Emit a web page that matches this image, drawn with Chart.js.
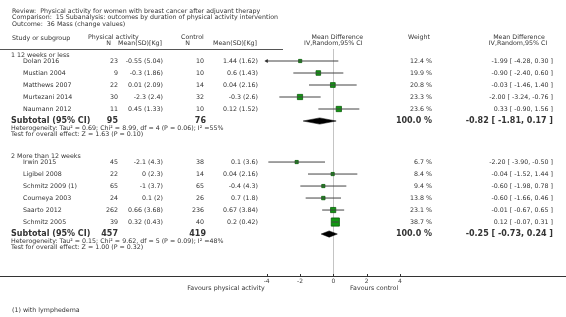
<!DOCTYPE html>
<html>
<head>
<meta charset="utf-8">
<script src="https://cdn.jsdelivr.net/npm/chart.js@4.4.0/dist/chart.umd.min.js"></script>
<style>
body { margin: 0; background: #fff; }
#wrap { width: 566px; height: 317px; position: relative; }
</style>
</head>
<body>
<div id="wrap"><canvas id="forest"></canvas></div>
<script>
// group 1: 12 weeks or less
var studies1 = ['Dolan 2016', 'Mustian 2004', 'Matthews 2007', 'Murtezani 2014', 'Naumann 2012'];
var paN1 = [23, 9, 22, 30, 11];
var paMean1 = [-0.55, -0.3, 0.01, -2.3, 0.45];
var paSD1 = [5.04, 1.86, 2.09, 2.4, 1.33];
var ctN1 = [10, 10, 14, 32, 10];
var ctMean1 = [1.44, 0.6, 0.04, -0.3, 0.12];
var ctSD1 = [1.62, 1.43, 2.16, 2.6, 1.52];
var weight1 = [12.4, 19.9, 20.8, 23.3, 23.6];
var md1 = [-1.99, -0.90, -0.03, -2.00, 0.33];
var lo1 = [-4.28, -2.40, -1.46, -3.24, -0.90];
var hi1 = [0.30, 0.60, 1.40, -0.76, 1.56];
var sub1 = { paN: 95, ctN: 76, md: -0.82, lo: -1.81, hi: 0.17 };
var het1 = ['Heterogeneity: Tau\u00b2 = 0.69; Chi\u00b2 = 8.99, df = 4 (P = 0.06); I\u00b2 =55%',
            'Test for overall effect: Z = 1.63 (P = 0.10)'];

// group 2: more than 12 weeks
var studies2 = ['Irwin 2015', 'Ligibel 2008', 'Schmitz 2009 (1)', 'Courneya 2003', 'Saarto 2012', 'Schmitz 2005'];
var paN2 = [45, 22, 65, 24, 262, 39];
var paMean2 = [-2.1, 0, -1, 0.1, 0.66, 0.32];
var paSD2 = [4.3, 2.3, 3.7, 2, 3.68, 0.43];
var ctN2 = [38, 14, 65, 26, 236, 40];
var ctMean2 = [0.1, 0.04, -0.4, 0.7, 0.67, 0.2];
var ctSD2 = [3.6, 2.16, 4.3, 1.8, 3.84, 0.42];
var weight2 = [6.7, 8.4, 9.4, 13.8, 23.1, 38.7];
var md2 = [-2.20, -0.04, -0.60, -0.60, -0.01, 0.12];
var lo2 = [-3.90, -1.52, -1.98, -1.66, -0.67, -0.07];
var hi2 = [-0.50, 1.44, 0.78, 0.46, 0.65, 0.31];
var sub2 = { paN: 457, ctN: 419, md: -0.25, lo: -0.73, hi: 0.24 };
var het2 = ['Heterogeneity: Tau\u00b2 = 0.15; Chi\u00b2 = 9.62, df = 5 (P = 0.09); I\u00b2 =48%',
            'Test for overall effect: Z = 1.00 (P = 0.32)'];

var xTicks = [-4, -2, 0, 2, 4];

// layout (rows in y-scale units, 12px each)
var FONT = '"DejaVu Sans", Verdana, sans-serif';
var TXT = '#333';
var plotLim = 4;
var groups = [
  { title: '1 12 weeks or less', top: 1.0, names: studies1, paN: paN1, paMean: paMean1, paSD: paSD1,
    ctN: ctN1, ctMean: ctMean1, ctSD: ctSD1, w: weight1, md: md1, lo: lo1, hi: hi1, sub: sub1, het: het1 },
  { title: '2 More than 12 weeks', top: 9.42, names: studies2, paN: paN2, paMean: paMean2, paSD: paSD2,
    ctN: ctN2, ctMean: ctMean2, ctSD: ctSD2, w: weight2, md: md2, lo: lo2, hi: hi2, sub: sub2, het: het2 }
];
groups.forEach(function (g) {
  g.rows = g.names.map(function (n, i) { return g.top + i; });
  g.subRow = g.top + g.names.length;
});

var squares = [], whiskers = [], arrows = [], diamonds = [];
groups.forEach(function (g) {
  g.names.forEach(function (n, i) {
    var r = g.rows[i];
    squares.push({ x: g.md[i], y: r, w: g.w[i] });
    whiskers.push({ x: Math.max(g.lo[i], -plotLim), y: r });
    whiskers.push({ x: Math.min(g.hi[i], plotLim), y: r });
    whiskers.push({ x: null, y: null });
    if (g.lo[i] < -plotLim) arrows.push({ x: -plotLim, y: r, rot: -90 });
    if (g.hi[i] > plotLim) arrows.push({ x: plotLim, y: r, rot: 90 });
  });
  var s = g.sub, r = g.subRow, h = 0.26;
  diamonds.push([{ x: s.lo, y: r }, { x: s.md, y: r - h }, { x: s.hi, y: r }, { x: s.md, y: r + h }, { x: s.lo, y: r }]);
});

function pct(v) { return v.toFixed(1) + ' %'; }
function ci(m, l, h) { return m.toFixed(2) + ' [ ' + l.toFixed(2) + ', ' + h.toFixed(2) + ' ]'; }

var tablePlugin = {
  id: 'table',
  afterDraw: function (chart) {
    var c = chart.ctx, xs = chart.scales.x, ys = chart.scales.y;
    function t(s, x, y, align, font) {
      c.font = font || ('6.3px ' + FONT);
      c.fillStyle = TXT;
      c.textAlign = align || 'left';
      c.textBaseline = 'middle';
      c.fillText(s, x, y);
    }
    var B = 'bold 8px ' + FONT;
    c.save();
    t('Review:  Physical activity for women with breast cancer after adjuvant therapy', 12, 11);
    t('Comparison:  15 Subanalysis: outcomes by duration of physical activity intervention', 12, 17.5);
    t('Outcome:  36 Mass (change values)', 12, 24);

    t('Study or subgroup', 12, 38.5);
    t('Physical activity', 88, 37);
    t('N', 111, 43.5, 'right');
    t('Mean(SD)[Kg]', 140, 43.5, 'center');
    t('Control', 181, 37);
    t('N', 190, 43.5, 'right');
    t('Mean(SD)[Kg]', 235, 43.5, 'center');
    var x0 = xs.getPixelForValue(0);
    t('Mean Difference', x0 + 4, 37, 'center');
    t('IV,Random,95% CI', x0, 43.5, 'center');
    t('Weight', 419, 37, 'center');
    t('Mean Difference', 519, 37, 'center');
    t('IV,Random,95% CI', 518, 43.5, 'center');

    c.fillStyle = '#555';
    c.fillRect(0, 49, 283, 1);

    groups.forEach(function (g) {
      var y1 = ys.getPixelForValue(g.rows[0]);
      t(g.title, 11, y1 - 5.5);
      g.names.forEach(function (n, i) {
        var y = ys.getPixelForValue(g.rows[i]) + 0.5;
        t(n, 23, y);
        t(String(g.paN[i]), 118, y, 'right');
        t(g.paMean[i] + ' (' + g.paSD[i] + ')', 163, y, 'right');
        t(String(g.ctN[i]), 204, y, 'right');
        t(g.ctMean[i] + ' (' + g.ctSD[i] + ')', 258, y, 'right');
        t(pct(g.w[i]), 432, y, 'right');
        t(ci(g.md[i], g.lo[i], g.hi[i]), 553, y, 'right');
      });
      var ys2 = ys.getPixelForValue(g.subRow);
      t('Subtotal (95% CI)', 11, ys2, 'left', B);
      t(String(g.sub.paN), 118, ys2, 'right', B);
      t(String(g.sub.ctN), 206, ys2, 'right', B);
      t('100.0 %', 432, ys2, 'right', B);
      t(ci(g.sub.md, g.sub.lo, g.sub.hi), 553, ys2, 'right', B);
      t(g.het[0], 11, ys2 + 7);
      t(g.het[1], 11, ys2 + 13);
    });

    // axis line across the page and inward tick marks
    var ay = Math.round(xs.top);
    c.fillStyle = '#333';
    c.fillRect(xs.left, ay, xs.right - xs.left, 1);
    xTicks.forEach(function (v) {
      var px = Math.round(xs.getPixelForValue(v));
      c.fillRect(px, ay - 2, 1, 2);
    });

    t('Favours physical activity', xs.getPixelForValue(-4) - 2, 288, 'right');
    t('Favours control', xs.getPixelForValue(1.0), 288, 'left');
    t('(1) with lymphedema', 12, 310);
    c.restore();
  }
};

var datasets = [
  {
    type: 'scatter', data: squares, order: 3,
    pointStyle: 'rect',
    pointRadius: function (ctx) { var d = ctx.raw; return d ? Math.max(3.2, 0.19 * d.w + 0.8) / 1.414 : 0; },
    backgroundColor: '#119911', borderColor: '#0a5a0a', borderWidth: 0.8
  },
  {
    type: 'line', data: whiskers, order: 2, spanGaps: false,
    borderColor: '#444', borderWidth: 1, pointRadius: 0, fill: false
  },
  {
    type: 'scatter', data: arrows, order: 1,
    pointStyle: 'triangle', pointRadius: 1.8,
    rotation: function (ctx) { return ctx.raw ? ctx.raw.rot : 0; },
    backgroundColor: '#222', borderColor: '#222', borderWidth: 0.5
  }
];
diamonds.forEach(function (d) {
  datasets.push({
    type: 'line', data: d, order: 1, fill: 'shape',
    backgroundColor: '#000', borderColor: '#000', borderWidth: 0.5, pointRadius: 0, tension: 0
  });
});

new Chart(document.getElementById('forest'), {
  type: 'scatter',
  data: { datasets: datasets },
  options: {
    responsive: true,
    maintainAspectRatio: false,
    animation: false,
    events: [],
    layout: { autoPadding: false, padding: { top: 49, left: 0, right: 0, bottom: 0 } },
    plugins: { legend: { display: false }, tooltip: { enabled: false } },
    scales: {
      x: {
        type: 'linear', min: -20, max: 13.96,
        afterBuildTicks: function (s) { s.ticks = xTicks.map(function (v) { return { value: v }; }); },
        afterFit: function (s) { s.height = 41; },
        border: { display: false },
        grid: {
          drawTicks: false,
          color: function (ctx) { return ctx.tick && ctx.tick.value === 0 ? '#c4c4c4' : 'rgba(0,0,0,0)'; }
        },
        ticks: { padding: 1.5, color: '#444', font: { family: FONT, size: 6 }, maxRotation: 0 }
      },
      y: { type: 'linear', display: false, reverse: true, min: 0, max: 227 / 12 }
    }
  },
  plugins: [tablePlugin]
});
</script>
</body>
</html>
